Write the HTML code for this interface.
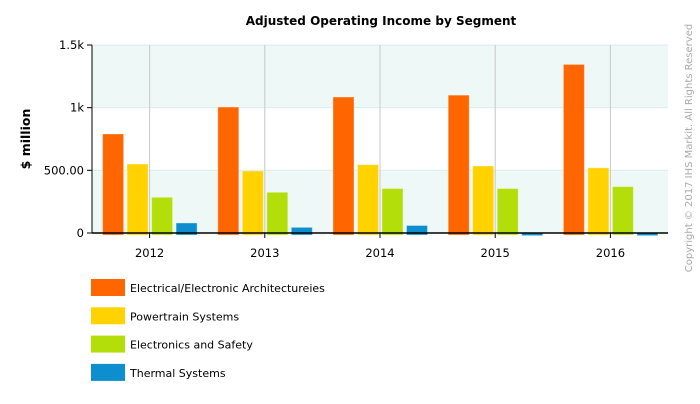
<!DOCTYPE html>
<html><head><meta charset="utf-8"><style>
body{margin:0;background:#fff;font-family:Verdana,"DejaVu Sans",sans-serif}
svg text{font-family:Verdana,"DejaVu Sans",sans-serif}
</style></head><body>
<svg id="c" width="700" height="400" xmlns="http://www.w3.org/2000/svg">
<text x="381" y="25" text-anchor="middle" font-size="12" font-weight="bold" fill="#000">Adjusted Operating Income by Segment</text>
<text transform="translate(30,139) rotate(-90)" text-anchor="middle" font-size="12.5" font-weight="bold">$ million</text>
<text transform="translate(692,148) rotate(-90)" text-anchor="middle" font-size="10" fill="#aaa">Copyright © 2017 IHS Markit. All Rights Reserved</text>
<g id="plot"></g>
<g id="legend"></g>
</svg>
<script>
const categories=["2012","2013","2014","2015","2016"];
const seriesNames=["Electrical/Electronic Architectureies","Powertrain Systems","Electronics and Safety","Thermal Systems"];
const elecVals=[790,1005,1085,1100,1345];
const powerVals=[550,495,545,535,520];
const safetyVals=[285,325,355,355,370];
const thermalVals=[80,45,60,-5,-5];
const yTicks=[0,500,1000,1500];
const yTickLabels=["0","500.00","1k","1.5k"];
const colors=["#ff6600","#ffd200","#b3de0a","#0d8ecf"];
const series=[elecVals,powerVals,safetyVals,thermalVals];
const NS="http://www.w3.org/2000/svg";
const L=92,R=668,T=45,B=233,yMax=1500;
const y=v=>B-(v/yMax)*(B-T);
const step=(R-L)/categories.length;
const xc=i=>L+step*(i+0.5);
const plot=document.getElementById('plot');
function mk(tag,attrs,parent){const e=document.createElementNS(NS,tag);for(const k in attrs)e.setAttribute(k,attrs[k]);(parent||plot).appendChild(e);return e;}
for(let i=0;i<yTicks.length-1;i++){
 const b=mk('rect',{x:L,y:y(yTicks[i+1]),width:R-L,height:y(yTicks[i])-y(yTicks[i+1]),fill:i%2===0?'#eef8f7':'#ffffff'});
 
 
}
yTicks.forEach((t,i)=>{
 if(i>0){const g=mk('line',{x1:L,x2:R,y1:y(t),y2:y(t),stroke:'#dcecec'});
 
 }
 const tk=mk('line',{x1:L-5,x2:L,y1:y(t),y2:y(t),stroke:'#000'});
 
 
 const tx=mk('text',{x:L-8,y:y(t)+4,'text-anchor':'end','font-size':'11.5'});
 tx.textContent=yTickLabels[i];
 
 
});
categories.forEach((c,i)=>{
 const g=mk('line',{x1:xc(i),x2:xc(i),y1:T,y2:B,stroke:'#c8c8c8'});
 
 
});
const bw=21,gap=24.5;
series.forEach((vals,s)=>{
 vals.forEach((v,i)=>{
  const x=xc(i)-47+s*gap;
  const top=Math.min(y(v),B), h=Math.abs(y(v)-B)+2;
  const r=mk('rect',{x:x,y:top,width:bw,height:h,fill:colors[s],stroke:'rgba(255,255,255,0.35)','stroke-width':1});
  
  
 });
});
const ax=mk('line',{x1:L,x2:R,y1:B,y2:B,stroke:'#000','stroke-width':1.5});


const ay=mk('line',{x1:L,x2:L,y1:T,y2:B,stroke:'#000'});


categories.forEach((c,i)=>{
 const tk=mk('line',{x1:xc(i),x2:xc(i),y1:B,y2:B+5,stroke:'#000'});
 
 
 const t=mk('text',{x:xc(i),y:B+24,'text-anchor':'middle','font-size':'11.5'});
 t.textContent=c;
 
 
});
const leg=document.getElementById('legend');
seriesNames.forEach((n,s)=>{
 const g=mk('g',{},leg);
 
 
 const yy=279+s*28.3;
 mk('rect',{x:91,y:yy,width:34,height:17,fill:colors[s]},g);
 const t=mk('text',{x:130,y:yy+13,'font-size':'11'},g);
 t.textContent=n;
});
</script>
</body></html>
